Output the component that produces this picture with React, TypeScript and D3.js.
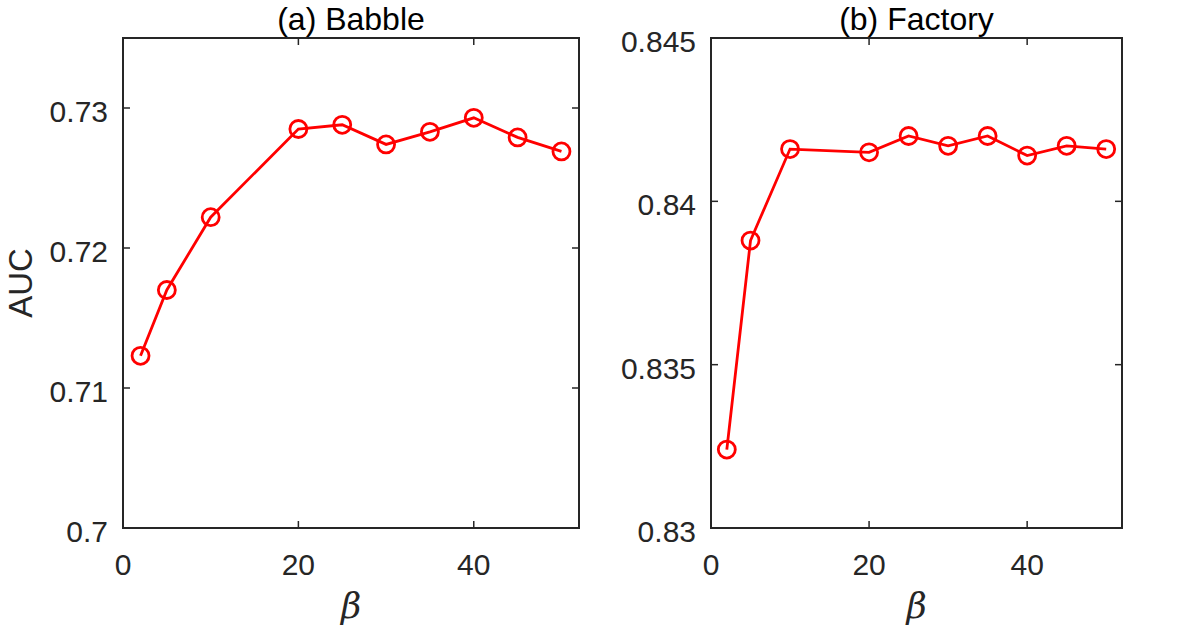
import React, { useEffect, useRef } from 'react'
import * as d3 from 'd3'

const betas = [2, 5, 10, 20, 25, 30, 35, 40, 45, 50]
const babbleAuc = [0.7123, 0.717, 0.7222, 0.7285, 0.7288, 0.7274, 0.7283, 0.7293, 0.7279, 0.7269]
const factoryAuc = [0.8324, 0.8388, 0.8416, 0.8415, 0.842, 0.8417, 0.842, 0.8414, 0.8417, 0.8416]
const xTicks = [0, 20, 40]
const babbleTicks = [0.7, 0.71, 0.72, 0.73]
const factoryTicks = [0.83, 0.835, 0.84, 0.845]

const axisColor = '#262626'
const font = '"Liberation Sans", Arial, Helvetica, sans-serif'

type Panel = {
  title: string
  values: number[]
  yDomain: [number, number]
  yTicks: number[]
  left: number
  right: number
  showYLabel: boolean
}

const panels: Panel[] = [
  { title: '(a) Babble', values: babbleAuc, yDomain: [0.7, 0.735], yTicks: babbleTicks, left: 123, right: 579, showYLabel: true },
  { title: '(b) Factory', values: factoryAuc, yDomain: [0.83, 0.845], yTicks: factoryTicks, left: 711, right: 1122, showYLabel: false },
]

export default function App() {
  const ref = useRef<SVGSVGElement>(null)

  useEffect(() => {
    const svg = d3.select(ref.current)
    svg.selectAll('*').remove()
    const top = 38
    const bottom = 528

    panels.forEach(p => {
      const x = d3.scaleLinear().domain([0, 52]).range([p.left, p.right])
      const y = d3.scaleLinear().domain(p.yDomain).range([bottom, top])
      const g = svg.append('g')

      // box
      g.append('rect')
        .attr('x', p.left).attr('y', top)
        .attr('width', p.right - p.left).attr('height', bottom - top)
        .attr('fill', 'none').attr('stroke', axisColor).attr('stroke-width', 2)

      // x ticks (inward, top and bottom)
      xTicks.forEach(t => {
        g.append('line').attr('x1', x(t)).attr('x2', x(t)).attr('y1', bottom).attr('y2', bottom - 7)
          .attr('stroke', axisColor).attr('stroke-width', 1.5)
        g.append('line').attr('x1', x(t)).attr('x2', x(t)).attr('y1', top).attr('y2', top + 7)
          .attr('stroke', axisColor).attr('stroke-width', 1.5)
        g.append('text').attr('x', x(t)).attr('y', bottom + 47)
          .attr('text-anchor', 'middle').attr('font-size', 30).attr('font-family', font)
          .attr('fill', axisColor).text(t)
      })

      // y ticks
      p.yTicks.forEach(t => {
        g.append('line').attr('x1', p.left).attr('x2', p.left + 7).attr('y1', y(t)).attr('y2', y(t))
          .attr('stroke', axisColor).attr('stroke-width', 1.5)
        g.append('line').attr('x1', p.right).attr('x2', p.right - 7).attr('y1', y(t)).attr('y2', y(t))
          .attr('stroke', axisColor).attr('stroke-width', 1.5)
        g.append('text').attr('x', p.left - 15).attr('y', y(t) + 14)
          .attr('text-anchor', 'end').attr('font-size', 30).attr('font-family', font)
          .attr('fill', axisColor).text(String(t))
      })

      // title
      g.append('text').attr('x', (p.left + p.right) / 2).attr('y', 30)
        .attr('text-anchor', 'middle').attr('font-size', 32).attr('font-family', font)
        .attr('fill', '#000').text(p.title)

      // x label
      g.append('text').attr('x', (p.left + p.right) / 2).attr('y', 618)
        .attr('text-anchor', 'middle').attr('font-size', 35).attr('font-style', 'italic')
        .attr('font-family', '"DejaVu Serif", "Liberation Serif", serif')
        .attr('fill', axisColor).text('β')

      if (p.showYLabel) {
        g.append('text').attr('transform', `translate(32, ${(top + bottom) / 2}) rotate(-90)`)
          .attr('text-anchor', 'middle').attr('font-size', 33).attr('font-family', font)
          .attr('fill', axisColor).text('AUC')
      }

      const data = betas.map((b, i) => ({ b, v: p.values[i] }))
      const line = d3.line<{ b: number; v: number }>().x(d => x(d.b)).y(d => y(d.v))
      g.append('path').datum(data).attr('d', line)
        .attr('fill', 'none').attr('stroke', '#ff0000').attr('stroke-width', 2.8)
      g.selectAll('circle.m').data(data).enter().append('circle')
        .attr('cx', d => x(d.b)).attr('cy', d => y(d.v)).attr('r', 8.5)
        .attr('fill', 'none').attr('stroke', '#ff0000').attr('stroke-width', 2.8)
    })
  }, [])

  return (
    <svg ref={ref} width={1182} height={629} style={{ position: 'absolute', left: 0, top: 0, background: '#fff' }} />
  )
}
